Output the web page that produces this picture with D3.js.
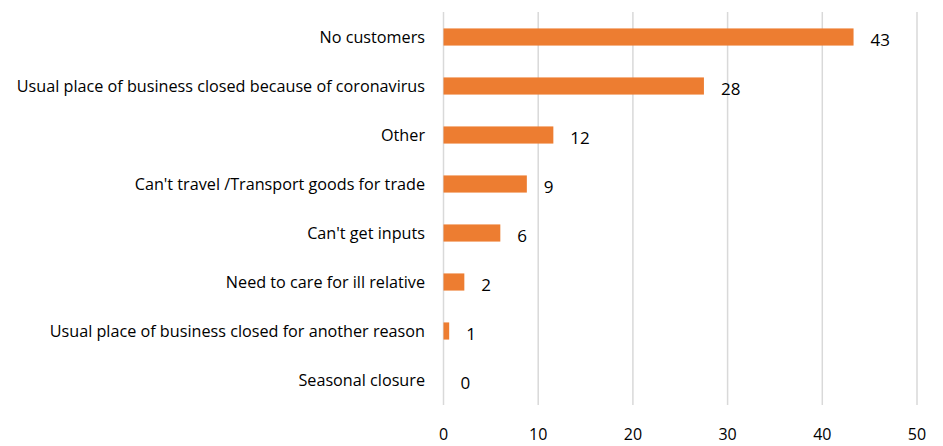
<!DOCTYPE html>
<html><head><meta charset="utf-8">
<script src="https://cdn.jsdelivr.net/npm/d3@7"></script>
<style>body{margin:0;background:#fff}svg{display:block}</style>
</head><body><svg id="c" width="943" height="446"></svg>
<script>
const categories = ["No customers","Usual place of business closed because of coronavirus","Other","Can't travel /Transport goods for trade","Can't get inputs","Need to care for ill relative","Usual place of business closed for another reason","Seasonal closure"];
const values = [43.3, 27.5, 11.6, 8.8, 6.0, 2.2, 0.6, 0];
const valueLabels = ["43","28","12","9","6","2","1","0"];
const xTicks = [0,10,20,30,40,50];

const svg = d3.select("#c");
const x = d3.scaleLinear().domain([0,50]).range([443.5,917]);
const y = d3.scaleBand().domain(categories).range([12.5,404.5]).paddingInner(0.65).paddingOuter(0.325);
const font = "'Open Sans', Lato, sans-serif";

svg.append("g").selectAll("line").data(xTicks).join("line")
  .attr("x1",d=>x(d)).attr("x2",d=>x(d)).attr("y1",12).attr("y2",405)
  .attr("stroke","#d9d9d9").attr("stroke-width",1.5);

svg.append("g").selectAll("text").data(xTicks).join("text")
  .attr("x",d=>x(d)).attr("y",440).attr("text-anchor","middle")
  .attr("font-family",font).attr("font-size",16).attr("fill","#000").text(d=>d);

svg.append("g").selectAll("rect").data(values).join("rect")
  .attr("x",x(0)).attr("y",(d,i)=>y(categories[i]))
  .attr("width",d=>x(d)-x(0)).attr("height",y.bandwidth())
  .attr("fill","#ED7D31");

svg.append("g").selectAll("text").data(values).join("text")
  .attr("x",d=>x(d)+17).attr("y",(d,i)=>y(categories[i])+y.bandwidth()/2+9)
  .attr("font-family",font).attr("font-size",17).attr("fill","#000")
  .text((d,i)=>valueLabels[i]);

svg.append("g").selectAll("text").data(categories).join("text")
  .attr("x",425).attr("y",d=>y(d)+y.bandwidth()/2).attr("dy","0.35em")
  .attr("text-anchor","end").attr("font-family",font).attr("font-size",16.2).attr("fill","#000")
  .text(d=>d);
</script></body></html>
